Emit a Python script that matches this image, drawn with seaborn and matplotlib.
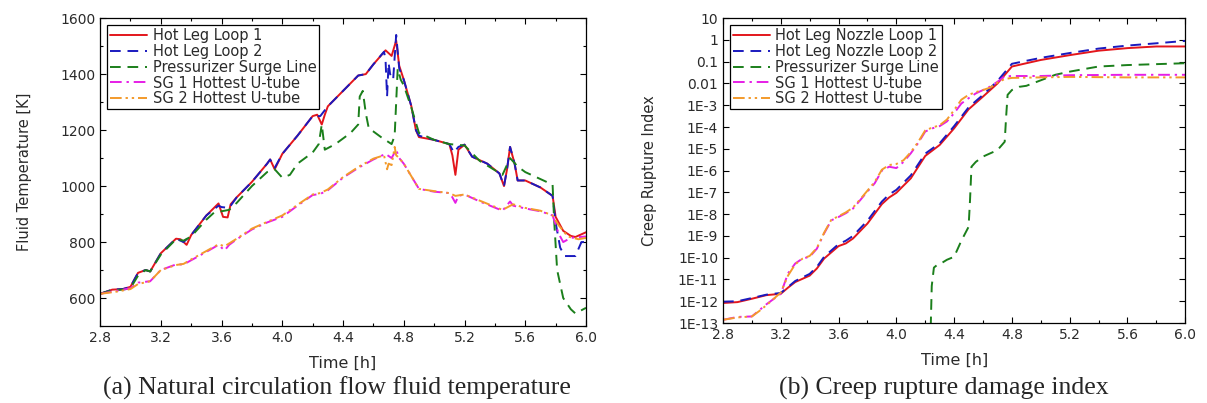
import numpy as np
import matplotlib
matplotlib.use("Agg")
import matplotlib.pyplot as plt
import seaborn as sns
from matplotlib.ticker import MultipleLocator, FixedLocator, FixedFormatter

sns.set_style("ticks")
plt.rcParams['font.family'] = ['DejaVu Sans']

# ---- (a) fluid temperature [K] ----
t_hl1 = [2.80, 2.88, 2.95, 3.00, 3.05, 3.10, 3.13, 3.20, 3.30, 3.33, 3.37, 3.40, 3.50, 3.58, 3.61, 3.64,
         3.66, 3.70, 3.80, 3.90, 3.92, 3.95, 4.00, 4.10, 4.20, 4.23, 4.26, 4.28, 4.30, 4.40, 4.50, 4.55,
         4.60, 4.68, 4.72, 4.75, 4.77, 4.80, 4.85, 4.88, 4.90, 5.00, 5.10, 5.12, 5.14, 5.16, 5.20, 5.25,
         5.35, 5.43, 5.46, 5.48, 5.50, 5.53, 5.55, 5.60, 5.70, 5.78, 5.80, 5.85, 5.90, 5.93, 6.00]
T_hl1 = [615, 630, 632, 640, 690, 700, 695, 760, 812, 810, 790, 825, 895, 938, 890, 888,
         935, 960, 1015, 1080, 1095, 1060, 1115, 1180, 1250, 1255, 1220, 1255, 1285, 1340, 1395, 1400,
         1435, 1485, 1465, 1520, 1430, 1380, 1285, 1200, 1175, 1165, 1150, 1110, 1040, 1130, 1148, 1105,
         1080, 1045, 1000, 1060, 1140, 1080, 1020, 1020, 995, 965, 890, 840, 822, 818, 835]

t_hl2 = [2.80, 2.88, 2.95, 3.00, 3.05, 3.10, 3.13, 3.20, 3.30, 3.35, 3.40, 3.50, 3.58, 3.60, 3.65, 3.70,
         3.80, 3.90, 3.92, 3.95, 4.00, 4.10, 4.20, 4.25, 4.30, 4.40, 4.50, 4.55, 4.60, 4.67, 4.68, 4.69,
         4.70, 4.71, 4.73, 4.75, 4.77, 4.80, 4.85, 4.88, 4.90, 5.00, 5.10, 5.13, 5.16, 5.20, 5.25, 5.35,
         5.43, 5.46, 5.48, 5.50, 5.53, 5.55, 5.60, 5.70, 5.78, 5.80, 5.83, 5.86, 5.93, 5.97, 6.00]
T_hl2 = [615, 630, 632, 640, 690, 700, 695, 760, 812, 800, 825, 895, 930, 925, 922, 960,
         1015, 1080, 1095, 1065, 1115, 1180, 1250, 1250, 1285, 1340, 1395, 1400, 1435, 1480, 1450, 1320,
         1440, 1400, 1380, 1540, 1420, 1380, 1285, 1200, 1180, 1165, 1150, 1120, 1140, 1148, 1105, 1080,
         1045, 1000, 1060, 1140, 1080, 1020, 1020, 995, 965, 870, 780, 750, 750, 800, 800]

t_psl = [2.80, 2.88, 2.95, 3.00, 3.05, 3.10, 3.13, 3.20, 3.30, 3.35, 3.40, 3.50, 3.55, 3.60, 3.65, 3.70,
         3.80, 3.90, 3.95, 4.00, 4.05, 4.10, 4.20, 4.24, 4.26, 4.28, 4.35, 4.45, 4.50, 4.51, 4.53, 4.55,
         4.57, 4.60, 4.65, 4.72, 4.74, 4.75, 4.76, 4.78, 4.80, 4.85, 4.90, 5.00, 5.10, 5.20, 5.30, 5.45,
         5.50, 5.55, 5.60, 5.78, 5.79, 5.81, 5.85, 5.90, 5.93, 6.00]
T_psl = [615, 628, 630, 635, 680, 700, 695, 755, 810, 805, 820, 880, 905, 910, 915, 940,
         1000, 1050, 1060, 1030, 1040, 1080, 1120, 1150, 1220, 1130, 1150, 1190, 1220, 1320, 1340, 1260,
         1205, 1195, 1175, 1150, 1180, 1300, 1420, 1380, 1360, 1280, 1190, 1165, 1150, 1145, 1090, 1040,
         1100, 1070, 1050, 1005, 880, 700, 600, 560, 545, 565]

t_sg1 = [2.80, 2.90, 3.00, 3.05, 3.13, 3.20, 3.30, 3.35, 3.40, 3.50, 3.58, 3.62, 3.65, 3.70, 3.80, 3.90,
         4.00, 4.10, 4.20, 4.25, 4.30, 4.40, 4.50, 4.60, 4.68, 4.72, 4.75, 4.77, 4.80, 4.90, 5.00, 5.10,
         5.12, 5.14, 5.16, 5.20, 5.30, 5.45, 5.50, 5.52, 5.60, 5.70, 5.78, 5.82, 5.85, 5.90, 6.00]
T_sg1 = [615, 625, 635, 655, 660, 700, 720, 720, 735, 765, 790, 770, 790, 810, 845, 870,
         890, 930, 968, 972, 985, 1030, 1065, 1095, 1115, 1100, 1130, 1100, 1080, 990, 980, 975,
         960, 940, 965, 970, 945, 912, 945, 930, 920, 910, 895, 830, 800, 815, 820]

t_sg2 = [2.80, 2.90, 3.00, 3.05, 3.13, 3.20, 3.30, 3.35, 3.40, 3.50, 3.58, 3.62, 3.65, 3.70, 3.80, 3.90,
         4.00, 4.10, 4.20, 4.25, 4.30, 4.40, 4.50, 4.60, 4.67, 4.69, 4.70, 4.72, 4.74, 4.75, 4.77, 4.80,
         4.90, 5.00, 5.10, 5.14, 5.20, 5.30, 5.45, 5.52, 5.60, 5.70, 5.78, 5.82, 5.88, 5.95, 6.00]
T_sg2 = [615, 622, 632, 650, 660, 700, 718, 722, 738, 768, 792, 785, 795, 812, 848, 872,
         895, 933, 970, 975, 988, 1032, 1068, 1098, 1110, 1060, 1080, 1075, 1140, 1110, 1100, 1080,
         990, 982, 975, 965, 970, 948, 915, 935, 922, 912, 895, 860, 820, 810, 815]

# ---- (b) creep rupture index ----
t_noz = [2.80, 2.90, 3.00, 3.10, 3.20, 3.25, 3.30, 3.40, 3.45, 3.50, 3.60, 3.65, 3.70, 3.80, 3.90, 3.95,
         4.00, 4.10, 4.20, 4.30, 4.40, 4.50, 4.60, 4.70, 4.80, 4.90, 5.00, 5.20, 5.40, 5.60, 5.80, 6.00]
cri_noz1 = [8.3e-13, 9.1e-13, 1.3e-12, 1.9e-12, 2.2e-12, 4.2e-12, 7.6e-12, 1.5e-11, 3.2e-11, 9.1e-11,
            3.4e-10, 4.5e-10, 7.6e-10, 3.7e-9, 2.9e-8, 5.8e-8, 9.5e-8, 4.4e-7, 4.7e-6, 1.5e-5, 8.7e-5,
            6.5e-4, 2.5e-3, 1.0e-2, 6.0e-2, 8.5e-2, 0.12, 0.20, 0.32, 0.42, 0.50, 0.50]
cri_noz2 = [9.5e-13, 1.0e-12, 1.4e-12, 2.0e-12, 2.4e-12, 4.5e-12, 8.5e-12, 1.8e-11, 3.8e-11, 1.1e-10,
            4.2e-10, 6.0e-10, 1.0e-9, 5.0e-9, 3.8e-8, 8.0e-8, 1.3e-7, 6.0e-7, 6.0e-6, 1.8e-5, 1.1e-4,
            8.0e-4, 3.0e-3, 1.3e-2, 8.0e-2, 0.11, 0.15, 0.25, 0.40, 0.55, 0.70, 0.90]

t_psl2 = [4.235, 4.245, 4.26, 4.28, 4.30, 4.35, 4.40, 4.45, 4.50, 4.51, 4.52, 4.55, 4.60, 4.70, 4.75,
          4.76, 4.77, 4.80, 4.85, 4.90, 5.00, 5.10, 5.20, 5.40, 5.60, 6.00]
cri_psl = [1e-14, 5e-12, 3.5e-11, 4.5e-11, 5e-11, 8e-11, 1.1e-10, 6e-10, 2.6e-9, 4.4e-8, 1.5e-6,
           2.5e-6, 4.4e-6, 8.7e-6, 2.1e-5, 3e-4, 3e-3, 5e-3, 7e-3, 7.8e-3, 1.4e-2, 2.5e-2, 3.5e-2,
           6e-2, 7e-2, 8.5e-2]

t_sgb = [2.80, 2.90, 3.00, 3.05, 3.10, 3.20, 3.25, 3.30, 3.35, 3.40, 3.45, 3.50, 3.55, 3.60, 3.65, 3.70,
         3.75, 3.80, 3.85, 3.90, 3.95, 4.00, 4.05, 4.10, 4.15, 4.20, 4.25, 4.30, 4.35, 4.40, 4.45, 4.50,
         4.55, 4.60, 4.65, 4.70, 4.75, 4.80, 5.00, 5.20, 5.60, 6.00]
cri_sg1 = [1.4e-13, 1.9e-13, 2.0e-13, 3.8e-13, 7.2e-13, 2.2e-12, 1.9e-11, 5.4e-11, 9.1e-11, 1.1e-10,
           2.6e-10, 1.3e-9, 5.2e-9, 7.4e-9, 1.1e-8, 1.8e-8, 4.4e-8, 1.1e-7, 2.6e-7, 1.0e-6, 1.5e-6,
           1.3e-6, 2.5e-6, 6.2e-6, 1.8e-5, 6.2e-5, 8.7e-5, 1.1e-4, 1.8e-4, 4.3e-4, 1.2e-3, 2.1e-3,
           3.5e-3, 5.0e-3, 7.2e-3, 1.2e-2, 2.1e-2, 2.2e-2, 2.2e-2, 2.4e-2, 2.5e-2, 2.5e-2]
cri_sg2 = [1.4e-13, 1.8e-13, 2.0e-13, 3.5e-13, 6.5e-13, 2.5e-12, 1.5e-11, 5.0e-11, 9.0e-11, 1.2e-10,
           2.8e-10, 1.4e-9, 5.5e-9, 8.0e-9, 1.2e-8, 2.0e-8, 4.8e-8, 1.2e-7, 3.0e-7, 1.1e-6, 1.8e-6,
           2.0e-6, 3.0e-6, 7.0e-6, 2.0e-5, 7.0e-5, 9.5e-5, 1.2e-4, 2.2e-4, 6.0e-4, 1.8e-3, 3.0e-3,
           4.0e-3, 5.0e-3, 6.5e-3, 1.1e-2, 1.6e-2, 1.8e-2, 1.9e-2, 2.0e-2, 1.9e-2, 1.9e-2]

log_ticks = [1e-13, 1e-12, 1e-11, 1e-10, 1e-9, 1e-8, 1e-7, 1e-6, 1e-5, 1e-4, 1e-3, 0.01, 0.1, 1, 10]
log_labels = ["1E-13", "1E-12", "1E-11", "1E-10", "1E-9", "1E-8", "1E-7", "1E-6", "1E-5", "1E-4",
              "1E-3", "0.01", "0.1", "1", "10"]

RED, BLUE, GREEN, MAG, ORANGE = "#e3161c", "#1a1abf", "#1b7f1b", "#e61ee6", "#f39a2b"
ls_solid = "-"
ls_dash = (0, (5.5, 3.5))
ls_dashdot = (0, (6, 2.5, 1.2, 2.5))
ls_dashdotdot = (0, (6, 2, 1.2, 2, 1.2, 2))
lw = 1.4
txt = "#2a2a2a"

fig = plt.figure(figsize=(12.07, 4.03), dpi=100)
ax1 = fig.add_axes([0.0829, 0.191, 0.4026, 0.764])
ax2 = fig.add_axes([0.599, 0.1985, 0.383, 0.7565])

sns.lineplot(x=t_hl1, y=T_hl1, ax=ax1, color=RED, linestyle=ls_solid, lw=lw, sort=False, estimator=None, label="Hot Leg Loop 1")
sns.lineplot(x=t_hl2, y=T_hl2, ax=ax1, color=BLUE, linestyle=ls_dash, lw=lw, sort=False, estimator=None, label="Hot Leg Loop 2")
sns.lineplot(x=t_psl, y=T_psl, ax=ax1, color=GREEN, linestyle=ls_dash, lw=lw, sort=False, estimator=None, label="Pressurizer Surge Line")
sns.lineplot(x=t_sg1, y=T_sg1, ax=ax1, color=MAG, linestyle=ls_dashdot, lw=lw, sort=False, estimator=None, label="SG 1 Hottest U-tube")
sns.lineplot(x=t_sg2, y=T_sg2, ax=ax1, color=ORANGE, linestyle=ls_dashdotdot, lw=lw, sort=False, estimator=None, label="SG 2 Hottest U-tube")

ax2.set_yscale("log")
sns.lineplot(x=t_noz, y=cri_noz1, ax=ax2, color=RED, linestyle=ls_solid, lw=lw, sort=False, estimator=None, label="Hot Leg Nozzle Loop 1")
sns.lineplot(x=t_noz, y=cri_noz2, ax=ax2, color=BLUE, linestyle=ls_dash, lw=lw, sort=False, estimator=None, label="Hot Leg Nozzle Loop 2")
sns.lineplot(x=t_psl2, y=cri_psl, ax=ax2, color=GREEN, linestyle=ls_dash, lw=lw, sort=False, estimator=None, label="Pressurizer Surge Line")
sns.lineplot(x=t_sgb, y=cri_sg1, ax=ax2, color=MAG, linestyle=ls_dashdot, lw=lw, sort=False, estimator=None, label="SG 1 Hottest U-tube")
sns.lineplot(x=t_sgb, y=cri_sg2, ax=ax2, color=ORANGE, linestyle=ls_dashdotdot, lw=lw, sort=False, estimator=None, label="SG 2 Hottest U-tube")

for ax in (ax1, ax2):
    ax.set_xlim(2.8, 6.0)
    ax.xaxis.set_major_locator(MultipleLocator(0.4))
    ax.xaxis.set_minor_locator(MultipleLocator(0.2))
    ax.xaxis.set_major_formatter(matplotlib.ticker.FormatStrFormatter("%.1f"))
    ax.tick_params(which="both", direction="in", top=True, right=True, labelsize=10, colors="black",
                   labelcolor=txt)
    ax.tick_params(which="major", length=4, width=0.8)
    ax.tick_params(which="minor", length=2.5, width=0.8)
    for s in ax.spines.values():
        s.set_color("black")
        s.set_linewidth(0.9)
    ax.set_xlabel("Time [h]", fontsize=11.5, color=txt, labelpad=8)
    leg = ax.legend(loc="upper left", fontsize=10.5, frameon=True, fancybox=False, edgecolor="black",
                    framealpha=1, borderaxespad=0.5, handlelength=2.5, handletextpad=0.4,
                    labelspacing=0.05, borderpad=0.2)
    leg.get_frame().set_linewidth(0.9)
    for tx in leg.get_texts():
        tx.set_color(txt)

ax1.set_ylim(500, 1600)
ax1.yaxis.set_major_locator(MultipleLocator(200))
ax1.yaxis.set_minor_locator(MultipleLocator(100))
ax1.set_ylabel("Fluid Temperature [K]", fontsize=10.5, color=txt, labelpad=20)

ax2.set_ylim(1e-13, 10)
ax2.yaxis.set_major_locator(FixedLocator(log_ticks))
ax2.yaxis.set_major_formatter(FixedFormatter(log_labels))
ax2.yaxis.set_minor_locator(matplotlib.ticker.NullLocator())
ax2.set_ylabel("Creep Rupture Index", fontsize=10.5, color=txt, labelpad=15)

fig.text(0.279, 0.037, "(a) Natural circulation flow fluid temperature", ha="center", va="center",
         fontsize=18.5, family=["Liberation Serif", "DejaVu Serif"])
fig.text(0.782, 0.037, "(b) Creep rupture damage index", ha="center", va="center",
         fontsize=18.5, family=["Liberation Serif", "DejaVu Serif"])

fig.savefig("out.png", dpi=100)
